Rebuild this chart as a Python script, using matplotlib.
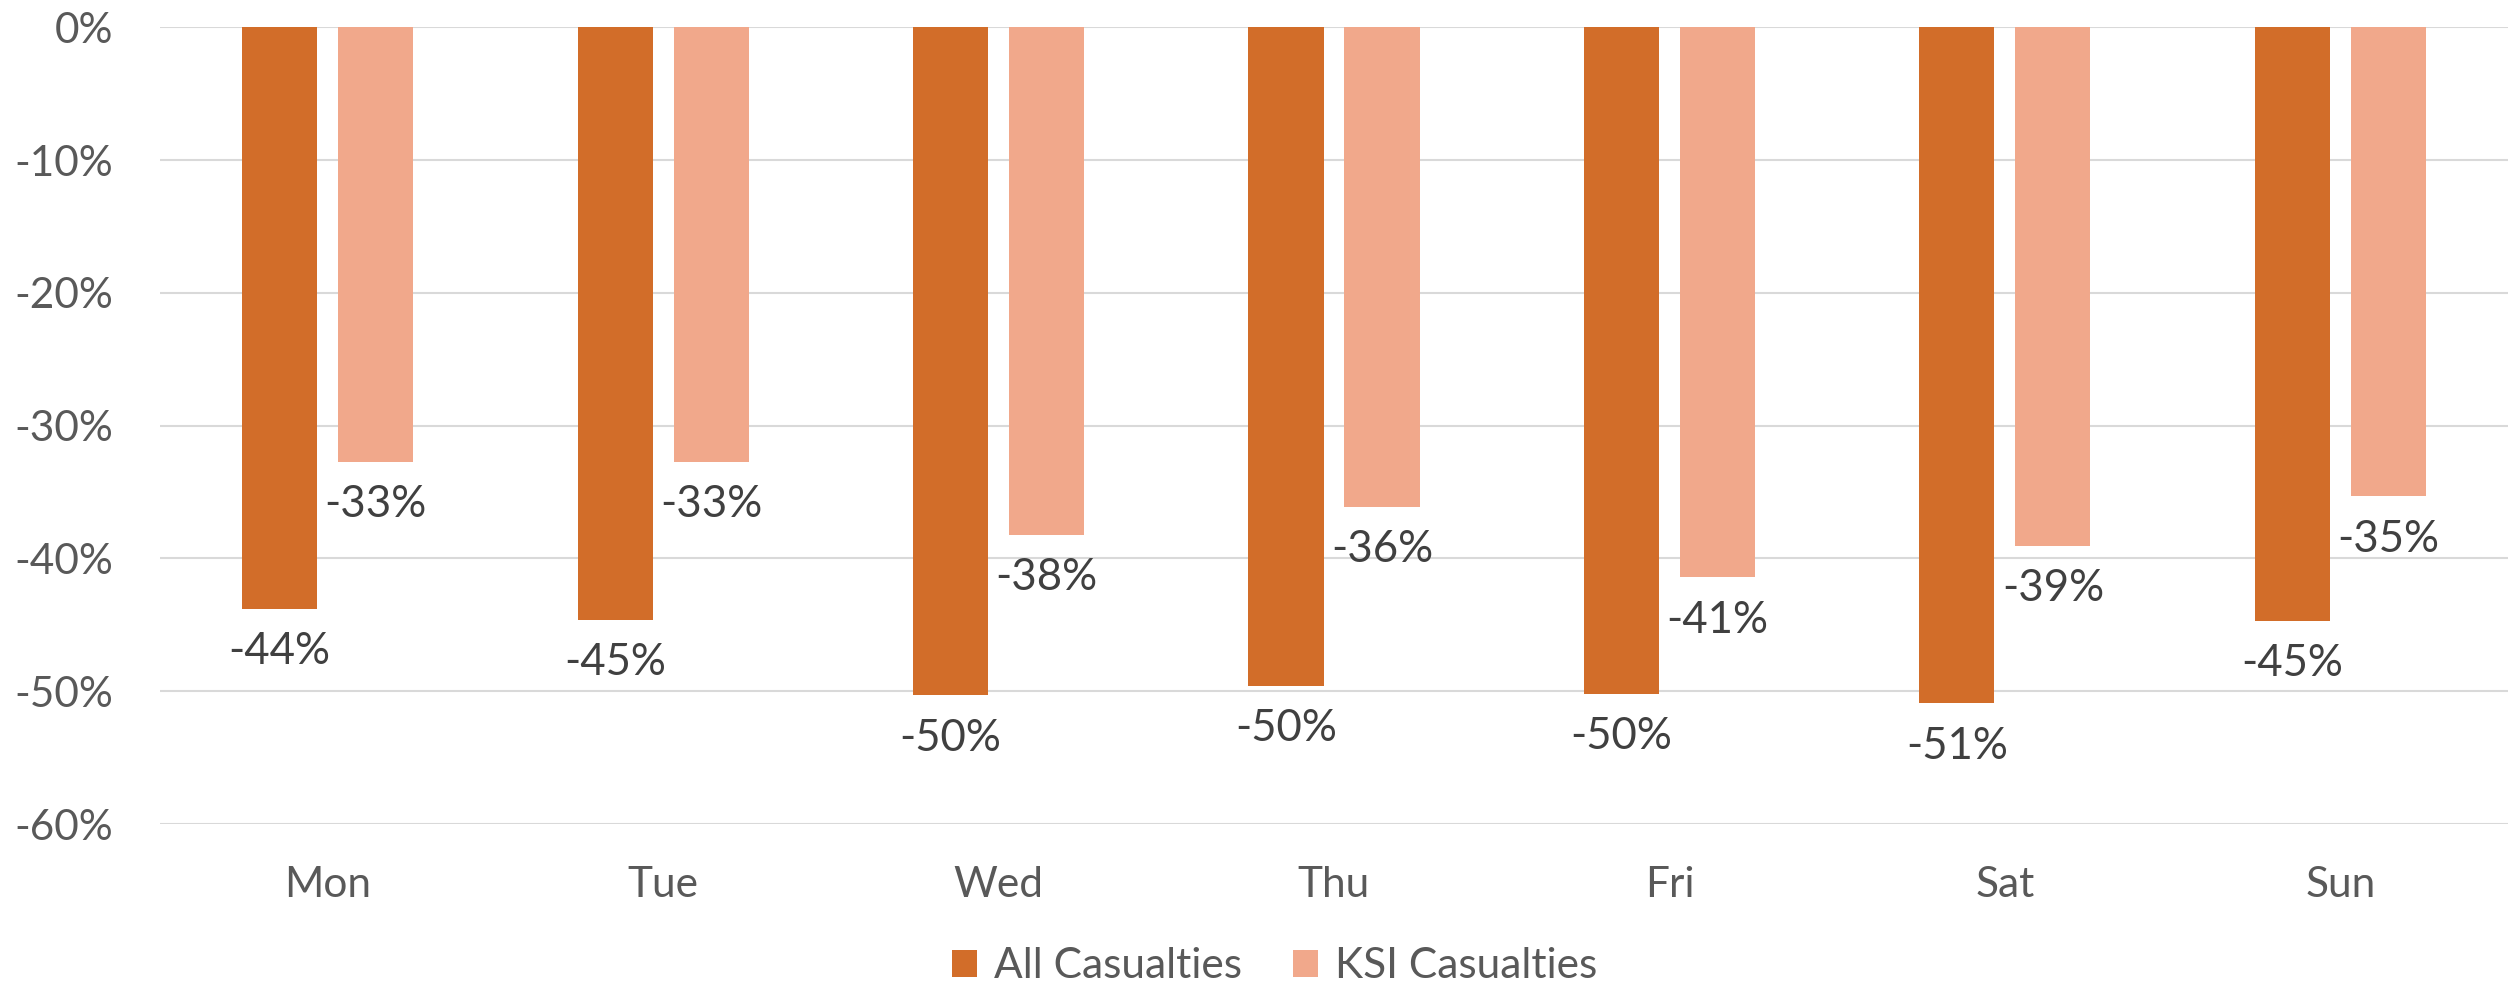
import matplotlib
matplotlib.use("Agg")
import matplotlib.pyplot as plt
import numpy as np

days = ["Mon", "Tue", "Wed", "Thu", "Fri", "Sat", "Sun"]
all_casualties = [-0.438, -0.446, -0.503, -0.496, -0.502, -0.509, -0.447]
ksi_casualties = [-0.327, -0.327, -0.382, -0.361, -0.414, -0.3905, -0.353]
series_names = ["All Casualties", "KSI Casualties"]
yticks = [0.0, -0.1, -0.2, -0.3, -0.4, -0.5, -0.6]

DARK = "#D26D29"
LIGHT = "#F1A88B"
TICK_GREY = "#595959"
LABEL_GREY = "#404040"

plt.rcParams["font.family"] = ["Lato", "DejaVu Sans"]

fig = plt.figure(figsize=(25.14, 9.86), dpi=100)
ax = fig.add_axes([160 / 2514, 1 - 824 / 986, 2348 / 2514, 796.7 / 986])

x = np.arange(len(days))
width = 0.224
offset = 0.143

bars = []
for vals, col, name, sgn in [(all_casualties, DARK, series_names[0], -1),
                             (ksi_casualties, LIGHT, series_names[1], 1)]:
    b = ax.bar(x + sgn * offset, vals, width, color=col, label=name, zorder=3)
    bars.append(b)
    for rect, v in zip(b, vals):
        ax.annotate(f"{v * 100:.0f}%",
                    (rect.get_x() + rect.get_width() / 2, v),
                    textcoords="offset points", xytext=(0, -31),
                    ha="center", va="center", fontsize=31.5, color=LABEL_GREY)

ax.set_xlim(-0.5, len(days) - 0.5)
ax.set_ylim(-0.6, 0.0)
ax.set_yticks(yticks)
ax.set_yticklabels([f"{t * 100:.0f}%" for t in yticks])
ax.set_xticks(x)
ax.set_xticklabels(days)
ax.tick_params(axis="y", length=0, pad=34, labelsize=30.5, labelcolor=TICK_GREY)
ax.tick_params(axis="x", length=0, pad=30, labelsize=30.5, labelcolor=TICK_GREY)
ax.grid(axis="y", color="#D9D9D9", linewidth=1.5, zorder=0)
for s in ax.spines.values():
    s.set_visible(False)

fig.legend(handles=bars, loc="center", bbox_to_anchor=(0.507, 0.02),
           ncol=2, frameon=False, fontsize=30.5, labelcolor=TICK_GREY,
           handlelength=0.6, handleheight=0.6, handletextpad=0.4,
           columnspacing=1.2)

fig.savefig("out.png", dpi=100)
